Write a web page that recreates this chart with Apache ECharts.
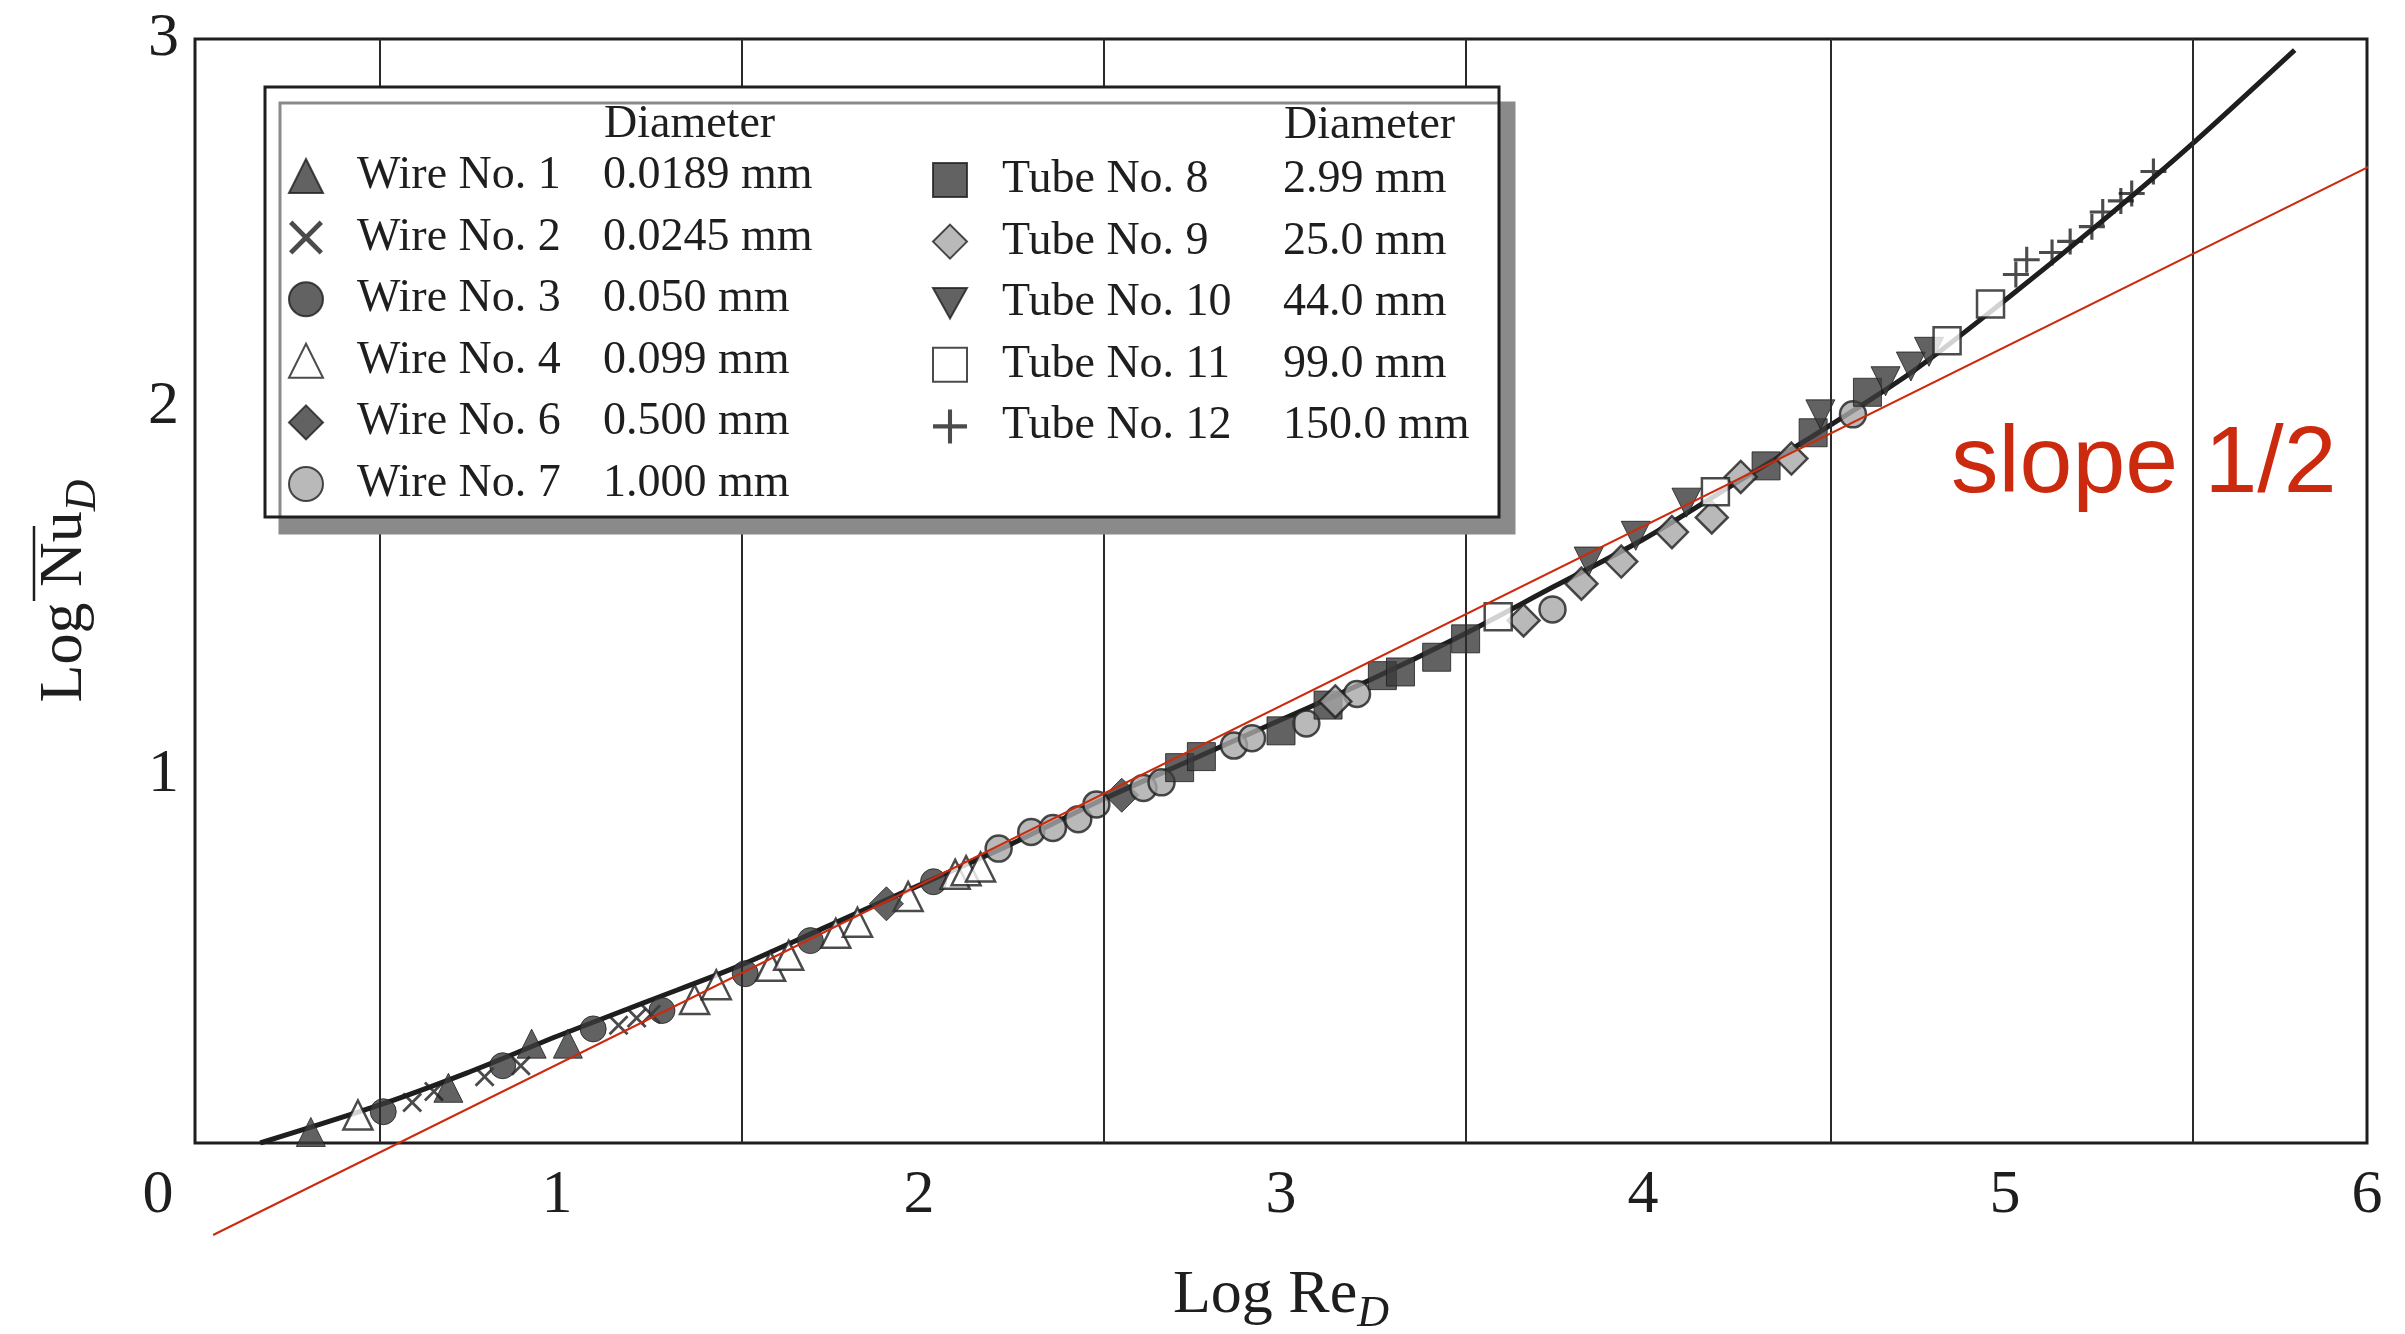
<!DOCTYPE html>
<html>
<head>
<meta charset="utf-8">
<script src="https://cdn.jsdelivr.net/npm/echarts@6/dist/echarts.min.js"></script>
<style>
  html, body { margin: 0; padding: 0; background: #fff; }
  #chart { width: 2405px; height: 1334px; }
</style>
</head>
<body>
<div id="chart"></div>
<script>
// Log Nu_D vs Log Re_D, cross flow over cylinders

// legend columns
const seriesNames = ['Wire No. 1', 'Wire No. 2', 'Wire No. 3', 'Wire No. 4', 'Wire No. 6', 'Wire No. 7',
                     'Tube No. 8', 'Tube No. 9', 'Tube No. 10', 'Tube No. 11', 'Tube No. 12'];
const diameters = ['0.0189 mm', '0.0245 mm', '0.050 mm', '0.099 mm', '0.500 mm', '1.000 mm',
                   '2.99 mm', '25.0 mm', '44.0 mm', '99.0 mm', '150.0 mm'];

// data points [Log Re_D, Log Nu_D]
const wire1 = [[0.32, 0.03], [0.70, 0.15], [0.93, 0.27], [1.03, 0.27]];
const wire2 = [[0.60, 0.11], [0.66, 0.14], [0.80, 0.18], [0.90, 0.21], [1.17, 0.32], [1.22, 0.34], [1.26, 0.35]];
const wire3 = [[0.52, 0.085], [0.85, 0.21], [1.10, 0.31], [1.29, 0.36], [1.52, 0.46], [1.70, 0.55], [2.04, 0.71]];
const wire4 = [[0.45, 0.076], [1.38, 0.39], [1.44, 0.43], [1.59, 0.48], [1.64, 0.51], [1.77, 0.57], [1.83, 0.60],
               [1.97, 0.67], [2.10, 0.73], [2.13, 0.74], [2.17, 0.75]];
const wire6 = [[1.91, 0.65], [2.56, 0.945]];
const wire7 = [[2.22, 0.80], [2.31, 0.845], [2.37, 0.856], [2.44, 0.88], [2.49, 0.92], [2.62, 0.965], [2.67, 0.98],
               [2.87, 1.08], [2.92, 1.10], [3.07, 1.14], [3.21, 1.22], [3.75, 1.45], [4.58, 1.98]];
const tube8 = [[2.72, 1.02], [2.78, 1.05], [3.00, 1.12], [3.13, 1.19], [3.28, 1.27], [3.33, 1.28], [3.43, 1.32],
               [3.51, 1.37], [4.34, 1.84], [4.47, 1.93], [4.62, 2.04]];
const tube9 = [[3.15, 1.20], [3.67, 1.42], [3.83, 1.52], [3.94, 1.58], [4.08, 1.66], [4.19, 1.70], [4.27, 1.81], [4.41, 1.86]];
const tube10 = [[3.85, 1.58], [3.98, 1.65], [4.12, 1.74], [4.49, 1.98], [4.67, 2.07], [4.74, 2.11], [4.79, 2.15]];
const tube11 = [[3.60, 1.43], [4.20, 1.77], [4.84, 2.18], [4.96, 2.28]];
const tube12 = [[5.03, 2.36], [5.06, 2.40], [5.13, 2.42], [5.18, 2.45], [5.24, 2.49], [5.27, 2.53], [5.32, 2.56],
                [5.35, 2.58], [5.41, 2.64]];
const seriesData = [wire1, wire2, wire3, wire4, wire6, wire7, tube8, tube9, tube10, tube11, tube12];

// correlation curve
const curve = [[0.18, 0], [0.5, 0.10], [0.75, 0.19], [1.0, 0.29], [1.25, 0.385], [1.5, 0.48],
               [1.75, 0.59], [2.0, 0.70], [2.25, 0.81], [2.5, 0.93], [2.75, 1.04], [3.0, 1.15], [3.25, 1.26],
               [3.5, 1.38], [3.75, 1.51], [4.0, 1.64], [4.25, 1.79], [4.5, 1.94], [4.75, 2.10], [5.0, 2.29],
               [5.25, 2.49], [5.5, 2.70], [5.8, 2.97]];

// red slope 1/2 line
const slopeX = [0.05, 6.02];
const slopeY = [-0.25, 2.66];

// vertical grid lines sit between the labelled ticks
const gridLinesX = [0.51, 1.51, 2.51, 3.51, 4.52, 5.52];

const DARK = '#3b3b3b';
const GRAY = '#a7a7a7';
const INK = '#1e1e1e';
const SERIF = '"Liberation Serif", "DejaVu Serif", serif';

const crossPath = 'path://M1,0L5,4L9,0L10,1L6,5L10,9L9,10L5,6L1,10L0,9L4,5L0,1Z';
const plusPath = 'path://M4.4,0H5.6V4.4H10V5.6H5.6V10H4.4V5.6H0V4.4H4.4Z';
const downTriangle = 'path://M0,0L10,0L5,9Z';

const markerStyles = [
  { symbol: 'triangle', symbolSize: 29, itemStyle: { color: DARK, borderColor: INK, borderWidth: 1 } },
  { symbol: crossPath, symbolSize: 20, itemStyle: { color: INK } },
  { symbol: 'circle', symbolSize: 26, itemStyle: { color: DARK, borderColor: INK, borderWidth: 1 } },
  { symbol: 'triangle', symbolSize: 29, itemStyle: { color: '#fff', borderColor: INK, borderWidth: 2.5 } },
  { symbol: 'diamond', symbolSize: 34, itemStyle: { color: DARK, borderColor: INK, borderWidth: 1 } },
  { symbol: 'circle', symbolSize: 26, itemStyle: { color: GRAY, borderColor: INK, borderWidth: 2.5 } },
  { symbol: 'rect', symbolSize: 28, itemStyle: { color: DARK, borderColor: INK, borderWidth: 1 } },
  { symbol: 'diamond', symbolSize: 32, itemStyle: { color: GRAY, borderColor: INK, borderWidth: 2.5 } },
  { symbol: downTriangle, symbolSize: 29, itemStyle: { color: DARK, borderColor: INK, borderWidth: 1 } },
  { symbol: 'rect', symbolSize: 27, itemStyle: { color: '#fff', borderColor: INK, borderWidth: 2.5 } },
  { symbol: plusPath, symbolSize: 26, itemStyle: { color: INK } }
];

const chart = echarts.init(document.getElementById('chart'));

const scatterSeries = seriesNames.map((name, i) => Object.assign({
  name: name,
  type: 'scatter',
  data: seriesData[i],
  z: 3
}, markerStyles[i]));

function legendFor(names, left, top, spacer, nameWidth) {
  return {
    data: names,
    orient: 'vertical',
    left: left,
    top: top,
    padding: 0,
    itemWidth: 34,
    itemHeight: 34,
    itemGap: 15.6,
    selectedMode: false,
    z: 60,
    formatter: name => '{s|\u00a0}{n|' + name + '}{d|' + diameters[seriesNames.indexOf(name)] + '}',
    textStyle: {
      fontFamily: SERIF,
      fontSize: 46,
      lineHeight: 46,
      color: INK,
      rich: {
        s: { width: spacer, fontSize: 46, fontFamily: SERIF },
        n: { width: nameWidth, fontSize: 46, fontFamily: SERIF, color: INK },
        d: { fontSize: 46, fontFamily: SERIF, color: INK }
      }
    }
  };
}

const option = {
  animation: false,
  backgroundColor: '#fff',
  grid: {
    left: 195, right: 38, top: 39, bottom: 191,
    outerBoundsMode: 'none',
    containLabel: false,
    show: true,
    borderColor: INK,
    borderWidth: 3
  },
  xAxis: {
    type: 'value',
    min: 0, max: 6, interval: 1,
    name: '{m|Log Re}{sub|D}',
    nameLocation: 'middle',
    nameGap: 122,
    nameTextStyle: {
      fontFamily: SERIF, fontSize: 62, color: INK,
      rich: {
        m: { fontFamily: SERIF, fontSize: 62, color: INK, verticalAlign: 'top' },
        sub: { fontFamily: SERIF, fontSize: 44, fontStyle: 'italic', color: INK, verticalAlign: 'top', padding: [27, 0, 0, 0] }
      }
    },
    axisLine: { show: false },
    axisTick: { show: false },
    splitLine: { show: false },
    axisLabel: {
      margin: 22,
      fontFamily: SERIF, fontSize: 62, color: INK,
      showMinLabel: true, showMaxLabel: true,
      formatter: v => v === 0 ? '{z|0}' : String(v),
      rich: { z: { fontFamily: SERIF, fontSize: 62, color: INK, padding: [0, 74, 0, 0] } }
    }
  },
  yAxis: {
    type: 'value',
    min: 0, max: 3, interval: 1,
    name: '{m|Log }{m|Nu}{sub|D}',
    nameLocation: 'middle',
    nameGap: 90,
    nameRotate: 90,
    nameTextStyle: {
      fontFamily: SERIF, fontSize: 62, color: INK,
      rich: {
        m: { fontFamily: SERIF, fontSize: 62, color: INK, verticalAlign: 'top' },
        sub: { fontFamily: SERIF, fontSize: 44, fontStyle: 'italic', color: INK, verticalAlign: 'top', padding: [27, 0, 0, 0] }
      }
    },
    axisLine: { show: false },
    axisTick: { show: false },
    splitLine: { show: false },
    axisLabel: {
      margin: 16,
      fontFamily: SERIF, fontSize: 62, color: INK,
      showMinLabel: false, showMaxLabel: true
    }
  },
  legend: [
    legendFor(seriesNames.slice(0, 6), 288, 153, 29, 246),
    legendFor(seriesNames.slice(6), 932, 157, 30, 281)
  ],
  series: [
    {
      name: 'curve',
      type: 'line',
      data: curve,
      smooth: 0.3,
      showSymbol: false,
      silent: true,
      z: 2,
      lineStyle: { color: INK, width: 5 },
      markLine: {
        silent: true,
        symbol: ['none', 'none'],
        label: { show: false },
        lineStyle: { color: '#2a2a2a', width: 2, type: 'solid' },
        data: gridLinesX.map(x => ({ xAxis: x }))
      }
    },
    ...scatterSeries,
    {
      name: 'slope',
      type: 'line',
      data: slopeX.map((x, i) => [x, slopeY[i]]),
      showSymbol: false,
      silent: true,
      clip: false,
      z: 10,
      lineStyle: { color: '#cc2a0e', width: 2 }
    }
  ],
  graphic: [
    {
      type: 'rect', z: 50,
      shape: { x: 265, y: 87, width: 1234, height: 430 },
      style: { fill: '#fff', stroke: INK, lineWidth: 3, shadowColor: '#8a8a8a', shadowOffsetX: 15, shadowOffsetY: 16, shadowBlur: 0 }
    },
    {
      type: 'text', z: 51, x: 604, y: 125,
      style: { text: 'Diameter', font: '46px ' + SERIF, fill: INK, verticalAlign: 'middle' }
    },
    {
      type: 'text', z: 51, x: 1284, y: 126,
      style: { text: 'Diameter', font: '46px ' + SERIF, fill: INK, verticalAlign: 'middle' }
    },
    {
      type: 'text', z: 51, x: 1951, y: 466,
      style: { text: 'slope 1/2', font: '95px "Liberation Sans", Arial, sans-serif', fill: '#cc2a0e', verticalAlign: 'middle' }
    },
    {
      type: 'line', z: 51,
      shape: { x1: 34, y1: 526, x2: 34, y2: 601 },
      style: { stroke: INK, lineWidth: 2.5 }
    }
  ]
};

chart.setOption(option);
</script>
</body>
</html>
